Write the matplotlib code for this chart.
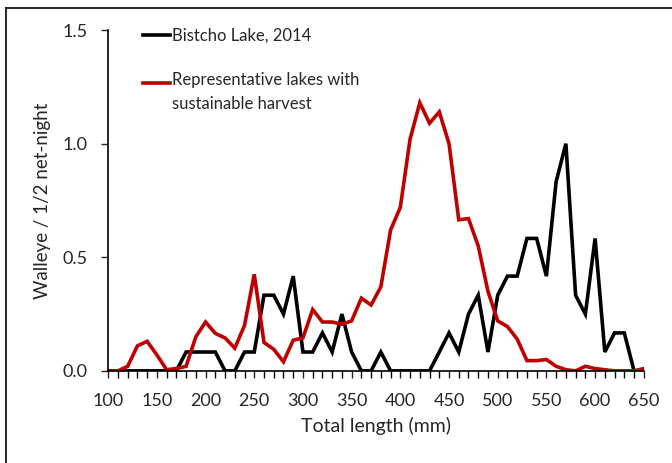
import numpy as np
import matplotlib.pyplot as plt
from matplotlib.lines import Line2D

# lengths (mm), 10 mm bins
length_black = np.arange(100, 650, 10)
bistcho = [0, 0, 0, 0, 0, 0, 0, 0, 0.083, 0.083,
           0.083, 0.083, 0, 0, 0.083, 0.083, 0.333, 0.333, 0.25, 0.417,
           0.083, 0.083, 0.167, 0.083, 0.25, 0.083, 0, 0, 0.083, 0,
           0, 0, 0, 0, 0.083, 0.167, 0.083, 0.25, 0.333, 0.083,
           0.333, 0.417, 0.417, 0.583, 0.583, 0.417, 0.833, 1.0, 0.333, 0.25,
           0.583, 0.083, 0.167, 0.167, 0]

length_red = np.arange(100, 660, 10)
representative = [0, 0, 0.02, 0.11, 0.13, 0.07, 0.005, 0.01, 0.02, 0.15,
                  0.215, 0.165, 0.145, 0.10, 0.20, 0.425, 0.125, 0.095, 0.04, 0.135,
                  0.145, 0.27, 0.215, 0.215, 0.205, 0.22, 0.32, 0.29, 0.37, 0.62,
                  0.72, 1.02, 1.18, 1.09, 1.14, 1.0, 0.665, 0.67, 0.55, 0.35,
                  0.22, 0.195, 0.14, 0.045, 0.045, 0.05, 0.02, 0.005, 0.0, 0.02,
                  0.01, 0.005, 0, 0, 0, 0.01]

labels = ["Bistcho Lake, 2014", "Representative lakes with\nsustainable harvest"]
red = "#C00000"
txt = "#262626"

plt.rcParams['font.family'] = ['Lato', 'DejaVu Sans']

fig = plt.figure(figsize=(6.72, 4.63), dpi=100)
ax = fig.add_axes([0.161, 0.199, 0.797, 0.736])

ax.plot(length_black, bistcho, color="black", lw=2.6, solid_joinstyle="miter")
ax.plot(length_red, representative, color=red, lw=2.6, solid_joinstyle="miter")

ax.set_xlim(100, 650)
ax.set_ylim(0, 1.5)
ax.set_xticks(np.arange(100, 651, 50))
ax.set_xticks(np.arange(100, 651, 10), minor=True)
ax.set_yticks([0, 0.5, 1.0, 1.5])
ax.set_yticklabels(["0.0", "0.5", "1.0", "1.5"])
ax.tick_params(axis="both", direction="out", labelsize=13, length=5, width=1, colors=txt)
ax.tick_params(axis="x", which="minor", direction="out", length=5, width=1)
ax.tick_params(axis="x", which="major", pad=11)
ax.tick_params(axis="y", which="major", pad=10)
for s in ["top", "right"]:
    ax.spines[s].set_visible(False)
for s in ["left", "bottom"]:
    ax.spines[s].set_linewidth(1.2)

ax.set_xlabel("Total length (mm)", fontsize=14, color=txt, labelpad=6)
ax.set_ylabel("Walleye / 1/2 net-night", fontsize=13.5, color=txt, labelpad=8)

# legend drawn by hand
ax.plot([0.065, 0.116], [0.985, 0.985], color="black", lw=2.6, transform=ax.transAxes, clip_on=False)
ax.text(0.119, 0.985, labels[0], transform=ax.transAxes, va="center", fontsize=12, color=txt)
ax.plot([0.065, 0.116], [0.845, 0.845], color=red, lw=2.6, transform=ax.transAxes, clip_on=False)
ax.text(0.119, 0.876, labels[1], transform=ax.transAxes, va="top", fontsize=12, color=txt,
        linespacing=1.55)

# frame lines at top and left of the picture
fig.add_artist(Line2D([6 / 672, 1.0], [1 - 8 / 463, 1 - 8 / 463], color="black", lw=1.2))
fig.add_artist(Line2D([6 / 672, 6 / 672], [0, 1 - 8 / 463], color="black", lw=1.2))

fig.savefig("out.png", dpi=100)
